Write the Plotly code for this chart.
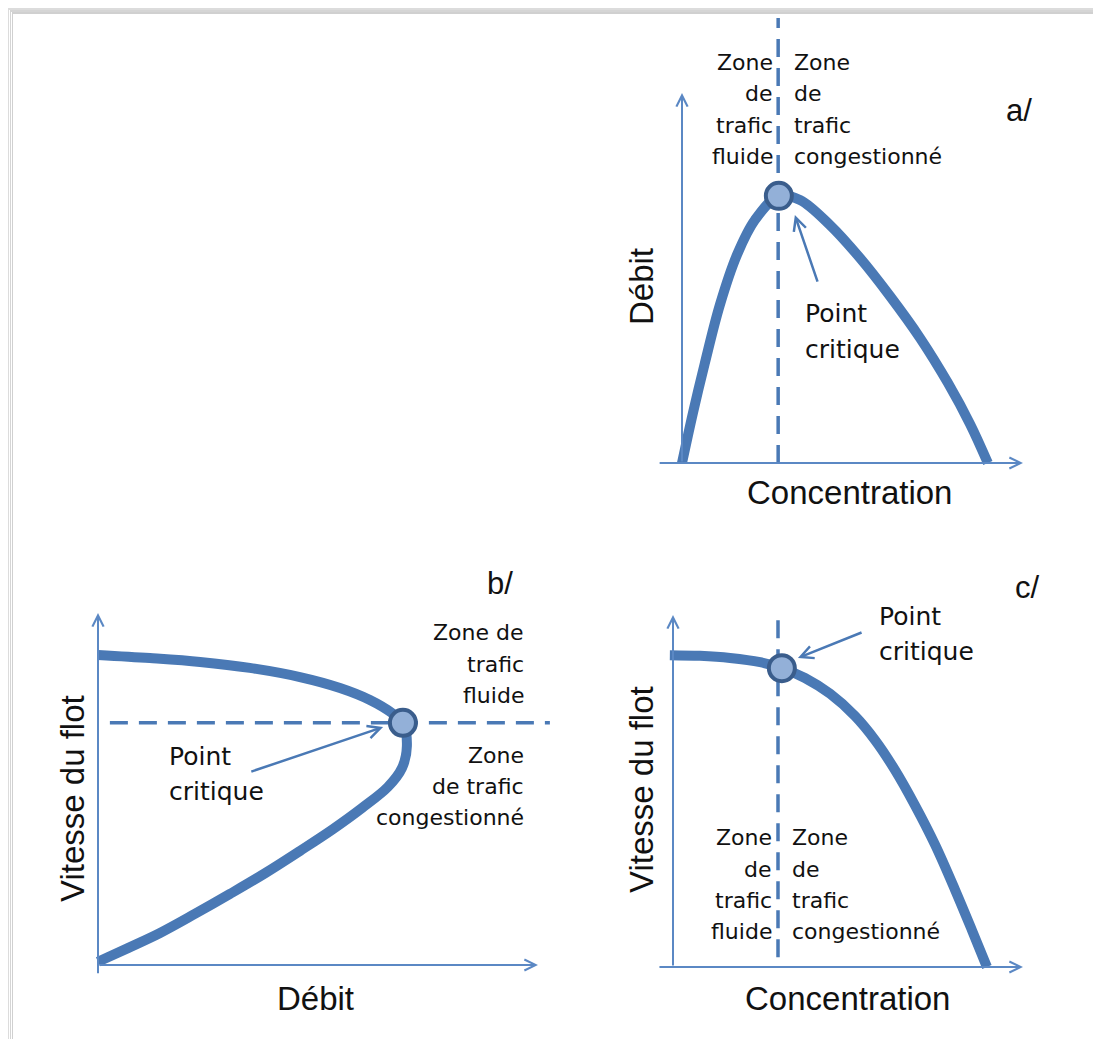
import plotly.graph_objects as go

W, H = 1101, 1039          # browser window
OFF = 8                    # default page margin of the html body
FW, FH = W - OFF, H - OFF  # figure size

# ---------------- data (normalised units: 0 at the axis origin, 1 at the arrow tip) -------------
# a/  Débit = f(Concentration)
conc_a = [0.0, 0.032, 0.067, 0.111, 0.161, 0.214, 0.284, 0.346, 0.434, 0.522, 0.610, 0.698, 0.780, 0.845, 0.897]
flow_a = [0.0, 0.135, 0.270, 0.427, 0.562, 0.657, 0.722, 0.711, 0.643, 0.554, 0.451, 0.338, 0.216, 0.105, 0.0]
crit_a = (0.284, 0.722)
split_a_x = 0.282
split_a_y = [0.0, 1.203]

# b/  Vitesse du flot = f(Débit)
flow_b = [0.0, 0.118, 0.232, 0.345, 0.459, 0.550, 0.618, 0.668, 0.693,
          0.702, 0.691, 0.659, 0.600, 0.534, 0.459, 0.380, 0.300, 0.220, 0.141, 0.068, 0.0]
speed_b = [0.881, 0.872, 0.861, 0.844, 0.818, 0.787, 0.753, 0.716, 0.688,
           0.622, 0.560, 0.506, 0.446, 0.386, 0.324, 0.261, 0.202, 0.145, 0.091, 0.048, 0.009]
crit_b = (0.693, 0.688)
split_b_y = 0.688
split_b_x = [0.027, 1.027]

# c/  Vitesse du flot = f(Concentration)
conc_c = [-0.009, 0.077, 0.163, 0.249, 0.311, 0.377, 0.449, 0.520, 0.577, 0.634, 0.691, 0.749, 0.806, 0.854, 0.897]
speed_c = [0.886, 0.884, 0.878, 0.866, 0.849, 0.821, 0.776, 0.713, 0.645, 0.560, 0.460, 0.347, 0.219, 0.105, 0.0]
crit_c = (0.311, 0.849)
split_c_x = 0.300
split_c_y = [0.028, 1.014]

# ---------------- panel geometry (window pixels) ----------------
PANELS = [
    dict(ox=682, oy=463, tx=1023, ty=93, xstart=-0.070, ystart=0.0),
    dict(ox=98, oy=965, tx=538, ty=613, xstart=0.0, ystart=-0.028),
    dict(ox=673, oy=967, tx=1023, ty=615, xstart=-0.043, ystart=0.0),
]

CURVE = "#4a79b5"
AXIS = "#5b88c4"
CIRC_FILL = "#93b0d8"
CIRC_EDGE = "#3a5d8c"
TXT = "#111111"
SANS = "Liberation Sans, Arial, sans-serif"
WIDE = "DejaVu Sans, Verdana, sans-serif"

fig = go.Figure()

layout_axes = {}
for i, p in enumerate(PANELS):
    ox, oy, tx, ty = p["ox"] - OFF, p["oy"] - OFF, p["tx"] - OFF, p["ty"] - OFF
    sx = tx - ox
    sy = oy - ty
    xr = [-ox / sx, (FW - ox) / sx]
    yr = [-(FH - oy) / sy, oy / sy]
    suf = "" if i == 0 else str(i + 1)
    layout_axes["xaxis" + suf] = dict(domain=[0, 1], range=xr, visible=False, fixedrange=True,
                                      anchor="y" + suf, showgrid=False, zeroline=False)
    layout_axes["yaxis" + suf] = dict(domain=[0, 1], range=yr, visible=False, fixedrange=True,
                                      anchor="x" + suf, showgrid=False, zeroline=False)

def ax(i):
    suf = "" if i == 0 else str(i + 1)
    return "x" + suf, "y" + suf

dash = "18px,11px"

# dashed separators
xa, ya = ax(0)
fig.add_trace(go.Scatter(x=[split_a_x, split_a_x], y=split_a_y, mode="lines", xaxis=xa, yaxis=ya,
                         line=dict(color=CURVE, width=3.5, dash=dash), hoverinfo="skip"))
xa, ya = ax(1)
fig.add_trace(go.Scatter(x=split_b_x, y=[split_b_y, split_b_y], mode="lines", xaxis=xa, yaxis=ya,
                         line=dict(color=CURVE, width=3.5, dash=dash), hoverinfo="skip"))
xa, ya = ax(2)
fig.add_trace(go.Scatter(x=[split_c_x, split_c_x], y=split_c_y, mode="lines", xaxis=xa, yaxis=ya,
                         line=dict(color=CURVE, width=3.5, dash=dash), hoverinfo="skip"))

# curves
for i, (xs, ys) in enumerate([(conc_a, flow_a), (flow_b, speed_b), (conc_c, speed_c)]):
    xa, ya = ax(i)
    fig.add_trace(go.Scatter(x=xs, y=ys, mode="lines", xaxis=xa, yaxis=ya,
                             line=dict(color=CURVE, width=10, shape="spline", smoothing=1.0),
                             hoverinfo="skip"))

# critical points
for i, c in enumerate([crit_a, crit_b, crit_c]):
    xa, ya = ax(i)
    fig.add_trace(go.Scatter(x=[c[0]], y=[c[1]], mode="markers", xaxis=xa, yaxis=ya, cliponaxis=False,
                             marker=dict(size=26, color=CIRC_FILL, line=dict(color=CIRC_EDGE, width=4)),
                             hoverinfo="skip"))

annotations = []

# axes with open arrowheads
for i, p in enumerate(PANELS):
    xa, ya = ax(i)
    annotations.append(dict(x=1.0, y=0.0, ax=p["xstart"], ay=0.0, xref=xa, yref=ya, axref=xa, ayref=ya,
                            text="", showarrow=True, arrowhead=5, arrowsize=1.1, arrowwidth=2,
                            arrowcolor=AXIS, standoff=0))
    annotations.append(dict(x=0.0, y=1.0, ax=0.0, ay=p["ystart"], xref=xa, yref=ya, axref=xa, ayref=ya,
                            text="", showarrow=True, arrowhead=5, arrowsize=1.1, arrowwidth=2,
                            arrowcolor=AXIS, standoff=0))

# pointer arrows "Point critique" (head, tail)
pointers = [
    (0, (0.331, 0.670), (0.399, 0.486)),
    (1, (0.648, 0.676), (0.345, 0.548)),
    (2, (0.357, 0.878), (0.543, 0.952)),
]
for i, head, tail in pointers:
    xa, ya = ax(i)
    annotations.append(dict(x=head[0], y=head[1], ax=tail[0], ay=tail[1], xref=xa, yref=ya,
                            axref=xa, ayref=ya, text="", showarrow=True, arrowhead=5,
                            arrowsize=1.0, arrowwidth=2.5, arrowcolor=CURVE, standoff=0))

def txt(s, px, py, size, anchor="center", family=WIDE, angle=0):
    annotations.append(dict(text=s, x=(px - OFF) / FW, y=1 - (py - OFF) / FH, xref="paper", yref="paper",
                            xanchor=anchor, yanchor="middle", showarrow=False, textangle=angle,
                            font=dict(family=family, size=size, color=TXT)))

# ---- panel a texts
for s, y in zip(["Zone", "de", "trafic", "fluide"], [62, 94, 125, 156]):
    txt(s, 775, y, 22, "right")
for s, y in zip(["Zone", "de", "trafic", "congestionné"], [62, 94, 125, 156]):
    txt(s, 792, y, 22, "left")
txt("Point", 803, 313, 25, "left")
txt("critique", 803, 349, 25, "left")
txt("a/", 1019, 110, 31, "center", SANS)
txt("Débit", 642, 287, 33, "center", SANS, -90)
txt("Concentration", 849, 492, 33, "center", SANS)

# ---- panel b texts
for s, y in zip(["Zone de", "trafic", "fluide"], [632, 664, 695]):
    txt(s, 526, y, 22, "right")
for s, y in zip(["Zone", "de trafic", "congestionné"], [755, 786, 817]):
    txt(s, 526, y, 22, "right")
txt("Point", 167, 756, 25, "left")
txt("critique", 167, 791, 25, "left")
txt("b/", 500, 583, 31, "center", SANS)
txt("Vitesse du flot", 72, 799, 33, "center", SANS, -90)
txt("Débit", 315, 998, 33, "center", SANS)

# ---- panel c texts
for s, y in zip(["Zone", "de", "trafic", "fluide"], [837, 869, 900, 931]):
    txt(s, 774, y, 22, "right")
for s, y in zip(["Zone", "de", "trafic", "congestionné"], [837, 869, 900, 931]):
    txt(s, 790, y, 22, "left")
txt("Point", 877, 616, 25, "left")
txt("critique", 877, 651, 25, "left")
txt("c/", 1027, 587, 31, "center", SANS)
txt("Vitesse du flot", 641, 790, 33, "center", SANS, -90)
txt("Concentration", 847, 998, 33, "center", SANS)

# ---- page shadow (top and left edges), window pixels
shapes = []
bands = [(8, 10, "#dcdcdc"), (10, 12, "#d5d5d5"), (12, 14, "#d0d0d0")]
for a0, a1, col in bands:
    shapes.append(dict(type="rect", xref="paper", yref="paper", x0=(a0 - OFF) / FW, x1=1,
                       y0=1 - (a1 - OFF) / FH, y1=1 - (a0 - OFF) / FH,
                       fillcolor=col, line=dict(width=0), layer="below"))
    shapes.append(dict(type="rect", xref="paper", yref="paper", x0=(a0 - OFF) / FW, x1=(a1 - 1 - OFF) / FW,
                       y0=0, y1=1 - (a0 - OFF) / FH,
                       fillcolor=col, line=dict(width=0), layer="below"))

fig.update_layout(
    width=FW, height=FH, margin=dict(l=0, r=0, t=0, b=0),
    paper_bgcolor="white", plot_bgcolor="rgba(0,0,0,0)",
    showlegend=False, annotations=annotations, shapes=shapes,
    **layout_axes,
)

fig.write_html("out.html")
